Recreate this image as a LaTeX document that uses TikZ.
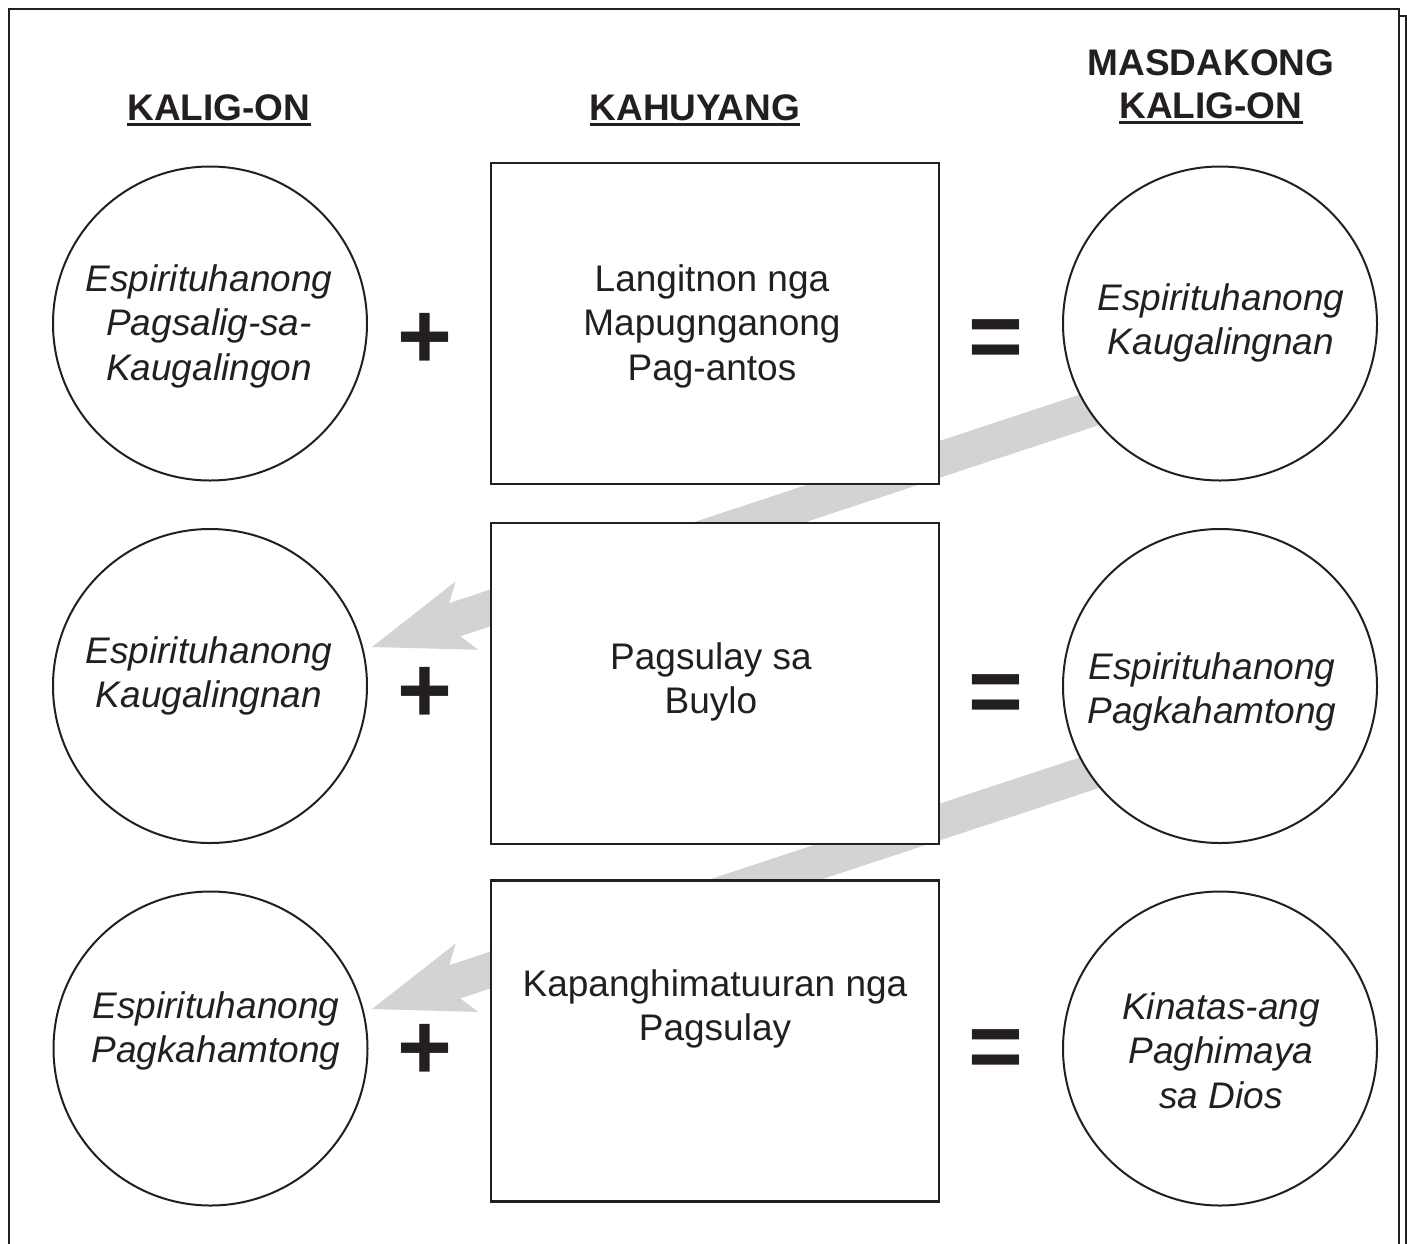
\documentclass[tikz,border=0pt]{standalone}
\usepackage{fontspec}
\setmainfont{Liberation Sans}
\usetikzlibrary{arrows.meta,calc}
\definecolor{ink}{HTML}{231F20}
\definecolor{bandgray}{HTML}{D1D3D4}
\begin{document}
\begin{tikzpicture}[x=1pt,y=-1pt,
  frame/.style={draw=ink, line width=1.5pt},
  circ/.style={circle, draw=ink, line width=2pt, fill=white, minimum size=314pt, inner sep=0pt},
  boxnode/.style={rectangle, draw=ink, line width=2.2pt, fill=white, minimum width=448pt, minimum height=321pt, inner sep=0pt},
  ctext/.style={font=\fontsize{37}{44.5}\selectfont\itshape, align=center, text=ink, inner sep=0pt},
  btext/.style={font=\fontsize{37}{44.5}\selectfont, align=center, text=ink, inner sep=0pt},
  head/.style={font=\fontsize{37}{43}\selectfont\bfseries, text=ink, inner sep=0pt, anchor=base},
  uline/.style={draw=ink, line width=3pt},
  op/.style={font=\fontsize{94}{94}\selectfont\bfseries, text=ink, inner sep=0pt},
  band/.style={draw=bandgray, line width=35pt, -{Stealth[length=100pt, width=72pt, inset=25pt, line width=0pt, fill=bandgray]}}
]
\useasboundingbox (0,0) rectangle (1407,1243);
\fill[white] (0,0) rectangle (1407,1243);
% frame
\draw[frame] (9,1260) -- (9,9) -- (1399,9) -- (1399,1260);
\draw[frame] (1399,16) -- (1406,16) -- (1406,1260);

% arrow bands (behind)
\coordinate (s1) at (1222,366);
\coordinate (t1) at (372,647);
\coordinate (s2) at (1222,729);
\coordinate (t2) at (372,1009);
\draw[band] (s1) -- (t1);
\draw[band] (s2) -- (t2);

% headings
\node[head] (hA) at (219,120) {KALIG-ON};
\node[head] (hB) at (695,120) {KAHUYANG};
\node[head] (hC1) at (1211,75) {MASDAKONG};
\node[head] (hC) at (1211,118) {KALIG-ON};
\draw[uline] ($(hA.base west)+(0,4.2)$) -- ($(hA.base east)+(0,4.2)$);
\draw[uline] ($(hB.base west)+(0,4.2)$) -- ($(hB.base east)+(0,4.2)$);
\draw[uline] ($(hC.base west)+(0,4.2)$) -- ($(hC.base east)+(0,4.2)$);

% circles and boxes
\node[circ] (L1) at (210,323.5) {};
\node[circ] (L2) at (210,686) {};
\node[circ] (L3) at (210.5,1048.5) {};
\node[circ] (R1) at (1220,323.5) {};
\node[circ] (R2) at (1220,686) {};
\node[circ] (R3) at (1220,1048.5) {};
\node[boxnode] (B1) at (715,323.5) {};
\node[boxnode] (B2) at (715,683.5) {};
\node[boxnode] (B3) at (715,1041) {};

% texts
\node[ctext] (L1t) at (209,326) {Espirituhanong\\Pagsalig-sa-\\Kaugalingon};
\node[ctext] (L2t) at (209,676) {Espirituhanong\\Kaugalingnan};
\node[ctext] (L3t) at (216,1031) {Espirituhanong\\Pagkahamtong};
\node[ctext] (R1t) at (1221,323) {Espirituhanong\\Kaugalingnan};
\node[ctext] (R2t) at (1212,692) {Espirituhanong\\Pagkahamtong};
\node[ctext] (R3t) at (1221,1050.5) {Kinatas-ang\\Paghimaya\\sa Dios};
\node[btext] (B1t) at (712,326) {Langitnon nga\\Mapugnganong\\Pag-antos};
\node[btext] (B2t) at (711,682) {Pagsulay sa\\Buylo};
\node[btext] (B3t) at (715,1009) {Kapanghimatuuran nga\\Pagsulay};

% operators
\node[op] (p1) at (425,341) {+};
\node[op] (p2) at (425,695) {+};
\node[op] (p3) at (425,1052) {+};
\node[op] (e1) at (996,344) {=};
\node[op] (e2) at (996,699) {=};
\node[op] (e3) at (996,1054) {=};
\end{tikzpicture}
\end{document}
